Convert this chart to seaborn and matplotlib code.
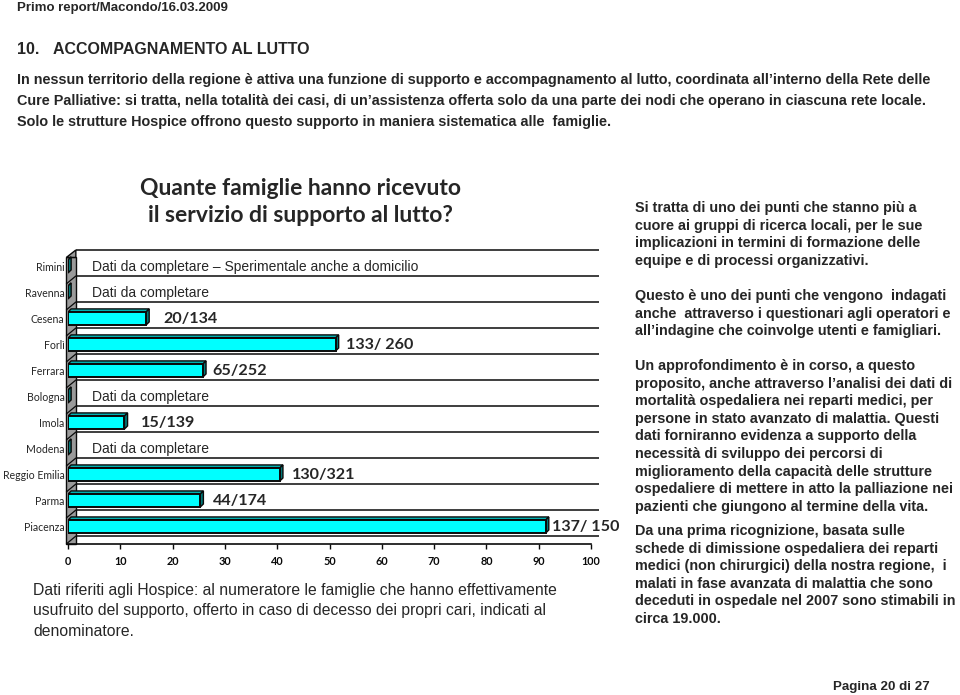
import matplotlib
matplotlib.use('Agg')
import matplotlib.pyplot as plt
from matplotlib.patches import Polygon, Rectangle
import seaborn as sns
import pandas as pd

# data
regioni = ['Rimini', 'Ravenna', 'Cesena', 'Forlì', 'Ferrara', 'Bologna', 'Imola',
           'Modena', 'Reggio Emilia', 'Parma', 'Piacenza']
famiglie_servite = [None, None, 20, 133, 65, None, 15, None, 130, 44, 137]
decessi_hospice = [None, None, 134, 260, 252, None, 139, None, 321, 174, 150]
etichette = ['Dati da completare – Sperimentale anche a domicilio', 'Dati da completare',
             '20/134', '133/ 260', '65/252', 'Dati da completare', '15/139',
             'Dati da completare', '130/321', '44/174', '137/ 150']
x_ticks = [0, 10, 20, 30, 40, 50, 60, 70, 80, 90, 100]

intestazione = 'Primo report/Macondo/16.03.2009'
sezione_num = '10.'
sezione = 'ACCOMPAGNAMENTO AL LUTTO'
paragrafo = [
    'In nessun territorio della regione è attiva una funzione di supporto e accompagnamento al lutto, coordinata all’interno della Rete delle',
    'Cure Palliative: si tratta, nella totalità dei casi, di un’assistenza offerta solo da una parte dei nodi che operano in ciascuna rete locale.',
    'Solo le strutture Hospice offrono questo supporto in maniera sistematica alle  famiglie.',
]
titolo = ['Quante famiglie hanno ricevuto', 'il servizio di supporto al lutto?']
nota = [
    'Dati riferiti agli Hospice: al numeratore le famiglie che hanno effettivamente',
    'usufruito del supporto, offerto in caso di decesso dei propri cari, indicati al',
    'denominatore.',
]
colonna_dx = [
    ['Si tratta di uno dei punti che stanno più a',
     'cuore ai gruppi di ricerca locali, per le sue',
     'implicazioni in termini di formazione delle',
     'equipe e di processi organizzativi.'],
    ['Questo è uno dei punti che vengono  indagati',
     'anche  attraverso i questionari agli operatori e',
     'all’indagine che coinvolge utenti e famigliari.'],
    ['Un approfondimento è in corso, a questo',
     'proposito, anche attraverso l’analisi dei dati di',
     'mortalità ospedaliera nei reparti medici, per',
     'persone in stato avanzato di malattia. Questi',
     'dati forniranno evidenza a supporto della',
     'necessità di sviluppo dei percorsi di',
     'miglioramento della capacità delle strutture',
     'ospedaliere di mettere in atto la palliazione nei',
     'pazienti che giungono al termine della vita.'],
    ['Da una prima ricognizione, basata sulle',
     'schede di dimissione ospedaliera dei reparti',
     'medici (non chirurgici) della nostra regione,  i',
     'malati in fase avanzata di malattia che sono',
     'deceduti in ospedale nel 2007 sono stimabili in',
     'circa 19.000.'],
]
piede = 'Pagina 20 di 27'

percentuali = [0 if n is None else 100 * n / d for n, d in zip(famiglie_servite, decessi_hospice)]
df = pd.DataFrame({'regione': regioni, 'percentuale': percentuali})

# gap (px) between bar end and its label, as on the page
scosta_px = [0, 0, 17, 10, 9, 0, 17, 0, 12, 13, 6]

sns.set_style('white')
plt.rcParams['font.family'] = ['Liberation Sans', 'DejaVu Sans']

W, H = 960, 695
fig = plt.figure(figsize=(W / 100, H / 100), dpi=100)
fig.patch.set_facecolor('white')


def px(x, y):
    return x / W, 1 - y / H


# page text
fig.text(*px(17, 8), intestazione, fontsize=9.5, fontweight='bold', va='center')
fig.text(*px(17, 50), sezione_num, fontsize=11.5, fontweight='bold', va='center')
fig.text(*px(53, 50), sezione, fontsize=11.5, fontweight='bold', va='center')
for k, riga in enumerate(paragrafo):
    fig.text(*px(17, 80 + 21 * k), riga, fontsize=10.4, fontweight='bold', va='center')
for k, riga in enumerate(titolo):
    fig.text(*px(300, 189 + 27 * k), riga, fontsize=16.5, fontweight='bold',
             va='center', ha='center', family='Lato')
for k, riga in enumerate(nota):
    fig.text(*px(33, 591 + 20 * k), riga, fontsize=11.3, va='center')

y_par = [208, 296, 366, 531]
for blocco, y0 in zip(colonna_dx, y_par):
    for k, riga in enumerate(blocco):
        fig.text(*px(635, y0 + 17.6 * k), riga, fontsize=10.35, fontweight='bold', va='center')
fig.text(*px(833, 687), piede, fontsize=9.6, fontweight='bold', va='center')

# chart
ax = fig.add_axes([68 / W, 1 - 544 / H, 523 / W, (544 - 250) / H])
sns.barplot(data=df, x='percentuale', y='regione', orient='h', color='#00FFFF',
            saturation=1, width=0.5, edgecolor='#0a0a0a', linewidth=1.4,
            errorbar=None, ax=ax, zorder=4)

dx, dy = 0.6, 0.12
for p in list(ax.patches):
    x0, y0, w, h = p.get_x(), p.get_y(), p.get_width(), p.get_height()
    top = Polygon([(x0, y0), (x0 + dx, y0 - dy), (x0 + w + dx, y0 - dy), (x0 + w, y0)],
                  closed=True, facecolor='#00b0b0', edgecolor='#0a0a0a', lw=1, zorder=3)
    side = Polygon([(x0 + w, y0), (x0 + w + dx, y0 - dy), (x0 + w + dx, y0 + h - dy), (x0 + w, y0 + h)],
                   closed=True, facecolor='#007878', edgecolor='#0a0a0a', lw=1, zorder=3)
    ax.add_patch(top)
    ax.add_patch(side)

ax.set_xlim(0, 100)
ax.set_ylim(10.67, -0.635)

# back wall grid lines and left wall
righe = [-0.635 + k for k in range(len(regioni) + 1)]
ax.hlines(righe, 1.5, 101.5, colors='#0a0a0a', lw=1.1, clip_on=False, zorder=1)
ax.add_patch(Rectangle((-0.3, -0.35), 1.8, 11.02, facecolor='#9a9a9a', edgecolor='#0a0a0a',
                       lw=1, clip_on=False, zorder=2))
ax.add_patch(Polygon([(-0.3, -0.35), (1.5, -0.635), (1.5, -0.35)], closed=True,
                     facecolor='#9a9a9a', edgecolor='#0a0a0a', lw=1, clip_on=False, zorder=2))
for yg in righe[1:]:
    ax.plot([-0.3, 1.5], [yg + 0.3, yg], color='#0a0a0a', lw=0.9, clip_on=False, zorder=2)

for i, (lbl, val) in enumerate(zip(etichette, percentuali)):
    if val > 0:
        ax.annotate(lbl, (val, i), xytext=(scosta_px[i] * 0.72, 0), textcoords='offset points',
                    va='center', ha='left', fontsize=11.6, fontweight='bold', family='Lato')
    else:
        ax.text(4.6, i, lbl, va='center', ha='left', fontsize=10)

ax.set_xticks(x_ticks)
ax.set_xticklabels([str(t) for t in x_ticks], fontsize=7.8, fontweight='bold', family='Lato')
ax.set_yticks(range(len(regioni)))
ax.set_yticklabels(regioni, fontsize=7.6, family='Lato')
ax.tick_params(axis='x', direction='out', length=3.6, width=1, pad=5, colors='#0a0a0a', bottom=True)
ax.tick_params(axis='y', length=0, pad=2.5)
ax.set_xlabel('')
ax.set_ylabel('')
for s in ['top', 'right', 'left']:
    ax.spines[s].set_visible(False)
ax.spines['bottom'].set_color('#0a0a0a')
ax.spines['bottom'].set_linewidth(1.2)
ax.patch.set_alpha(0)

fig.savefig('out.png', dpi=100, facecolor='white')
